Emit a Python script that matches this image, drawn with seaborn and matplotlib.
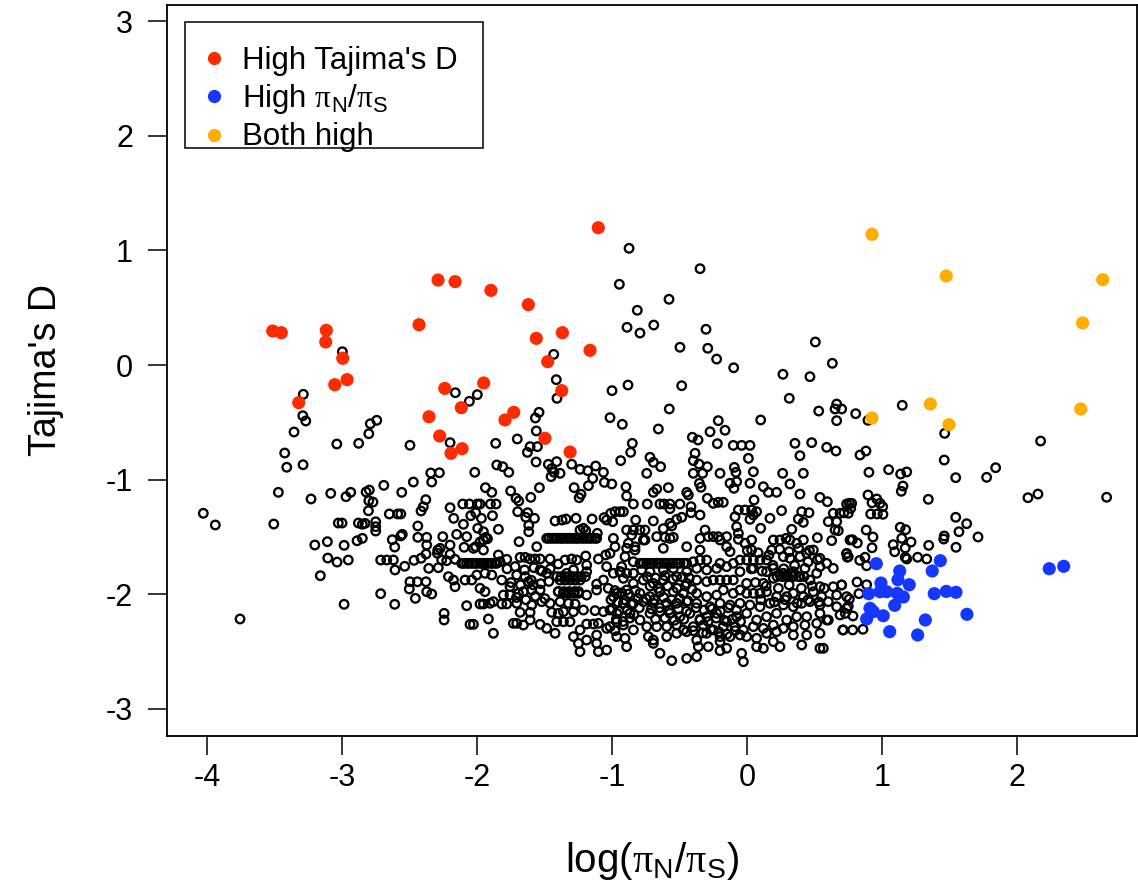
import matplotlib
matplotlib.use("Agg")
import matplotlib.pyplot as plt
from matplotlib.lines import Line2D
from matplotlib.patches import Rectangle
import seaborn as sns
import pandas as pd

sns.set_theme(style="white")
plt.rcParams['font.family'] = ['Liberation Sans', 'DejaVu Sans']
plt.rcParams['mathtext.fontset'] = 'custom'
plt.rcParams['mathtext.rm'] = 'Liberation Sans'
plt.rcParams['mathtext.it'] = 'Liberation Sans:italic'
plt.rcParams['mathtext.sf'] = 'Liberation Serif'
plt.rcParams['mathtext.default'] = 'regular'
for k in ['text.color', 'axes.labelcolor', 'xtick.color', 'ytick.color']:
    plt.rcParams[k] = 'black'

# ---------------- data (log(piN/piS), Tajima's D) ----------------
red_x = [-3.516, -3.452, -3.119, -3.123, -2.997, -3.056, -2.965, -3.323, -2.432, -1.104,
         -2.291, -2.165, -1.899, -1.622, -1.370, -1.563, -1.165, -1.479, -1.953, -2.241,
         -1.375, -2.119, -2.358, -1.730, -1.795, -2.279, -2.113, -2.195, -1.499, -1.313]
red_y = [0.297, 0.282, 0.303, 0.201, 0.059, -0.172, -0.128, -0.329, 0.352, 1.199,
         0.742, 0.728, 0.652, 0.527, 0.282, 0.233, 0.128, 0.029, -0.157, -0.204,
         -0.224, -0.373, -0.452, -0.413, -0.480, -0.620, -0.731, -0.771, -0.640, -0.760]

blue_x = [0.956, 1.129, 1.116, 1.370, 1.430, 0.990, 1.200, 0.899, 0.983, 1.032, 1.111,
          1.156, 1.385, 1.474, 1.546, 1.092, 0.909, 0.933, 1.007, 0.884, 1.319, 1.627,
          1.055, 1.262, 2.237, 2.344]
blue_y = [-1.735, -1.799, -1.875, -1.799, -1.709, -1.904, -1.919, -1.997, -1.980, -1.980,
          -1.994, -2.026, -1.997, -1.977, -1.985, -2.099, -2.125, -2.154, -2.190, -2.218,
          -2.227, -2.177, -2.329, -2.358, -1.779, -1.758]

orange_x = [0.924, 1.474, 2.633, 2.484, 1.356, 0.924, 1.494, 2.470]
orange_y = [1.141, 0.777, 0.745, 0.367, -0.341, -0.463, -0.521, -0.384]

black_upper = [
    (-3.00, 0.116), (-3.289, -0.256),
    (-0.876, 1.019), (-0.948, 0.705), (-0.891, 0.329), (-1.434, 0.093), (-1.415, -0.128),
    (-1.410, -0.291), (-2.163, -0.242), (-2.059, -0.317), (-2.000, -0.259), (-1.002, -0.224),
    (-0.884, -0.175), (-1.543, -0.413), (-1.570, -0.463), (-1.563, -0.576), (-1.017, -0.460),
    (-0.926, -0.518), (-1.704, -0.646),
    (-0.350, 0.841), (-0.580, 0.574), (-0.815, 0.478), (-0.795, 0.279), (-0.693, 0.349),
    (-0.306, 0.312), (-0.499, 0.155), (-0.293, 0.146), (-0.227, 0.052), (-0.101, -0.024),
    (0.504, 0.201), (0.630, 0.015), (0.264, -0.081), (0.464, -0.102), (-0.486, -0.181),
    (0.311, -0.291), (-0.578, -0.384), (-0.659, -0.559), (-0.215, -0.486), (0.099, -0.480),
    (0.529, -0.402), (0.662, -0.341), (0.650, -0.384), (0.699, -0.384), (0.662, -0.486),
    (-0.276, -0.583), (-0.165, -0.570), (-0.407, -0.631), (-0.365, -0.655),
    (0.803, -0.425), (0.894, -0.483), (1.148, -0.352), (1.462, -0.597), (2.173, -0.664),
    (0.879, -0.751), (0.835, -0.786), (1.459, -0.830),
]

black_left = [
    (-3.293, -0.443), (-3.271, -0.489), (-3.358, -0.585), (-3.427, -0.769), (-3.412, -0.893),
    (-3.291, -0.871), (-3.041, -0.690), (-2.879, -0.684), (-2.793, -0.513), (-2.745, -0.483),
    (-2.804, -0.600), (-2.499, -0.701), (-3.474, -1.112), (-3.232, -1.170), (-3.086, -1.121),
    (-2.973, -1.150), (-2.938, -1.112), (-2.824, -1.109), (-2.800, -1.092), (-2.804, -1.185),
    (-2.773, -1.197), (-2.807, -1.273), (-2.693, -1.051), (-2.560, -1.112), (-2.474, -1.022),
    (-2.345, -0.943), (-2.281, -0.941), (-2.338, -1.022), (-2.382, -1.176), (-2.400, -1.238),
    (-2.417, -1.275), (-4.030, -1.295), (-3.941, -1.397), (-3.508, -1.389), (-3.030, -1.380),
    (-3.002, -1.380), (-2.881, -1.380), (-2.852, -1.391), (-2.832, -1.383), (-2.753, -1.369),
    (-2.753, -1.412), (-2.753, -1.450), (-2.652, -1.301), (-2.590, -1.301), (-2.567, -1.301),
    (-2.441, -1.406), (-3.204, -1.572), (-3.111, -1.543), (-2.987, -1.575), (-2.891, -1.535),
    (-2.852, -1.514), (-2.630, -1.526), (-2.612, -1.590), (-2.567, -1.493), (-2.556, -1.479),
    (-2.441, -1.505), (-2.375, -1.505), (-2.375, -1.572), (-2.293, -1.616), (-3.108, -1.686),
    (-3.039, -1.721), (-2.956, -1.703), (-2.716, -1.703), (-2.671, -1.703), (-2.622, -1.703),
    (-2.610, -1.790), (-2.538, -1.758), (-2.469, -1.706), (-2.417, -1.688), (-2.380, -1.651),
    (-2.296, -1.644), (-2.360, -1.776), (-2.289, -1.770), (-3.163, -1.840), (-2.499, -1.893),
    (-2.444, -1.893), (-2.380, -1.893), (-2.504, -1.956), (-2.375, -1.980), (-2.338, -2.000),
    (-2.459, -2.038), (-2.716, -1.997), (-2.987, -2.090), (-2.612, -2.090), (-3.758, -2.218),
]

black_core_a = [
    (-2.202, -0.678), (-1.864, -0.684), (-1.609, -0.713), (-1.555, -0.713), (-1.629, -0.763),
    (-1.565, -0.847), (-1.856, -0.873), (-1.812, -0.888), (-1.767, -0.937), (-2.019, -0.937),
    (-1.474, -0.867), (-1.449, -0.905), (-1.412, -0.844), (-1.432, -0.937), (-1.454, -0.975),
    (-1.387, -0.946), (-1.301, -0.867), (-1.239, -0.911), (-1.182, -0.923), (-1.123, -0.882),
    (-1.066, -0.937), (-1.145, -0.990), (-1.177, -1.054), (-1.059, -1.025), (-1.004, -1.039),
    (-0.938, -0.835), (-1.940, -1.071), (-1.893, -1.112), (-1.753, -1.100), (-1.713, -1.164),
    (-1.693, -1.188), (-1.604, -1.156), (-1.540, -1.071), (-1.283, -1.071), (-1.232, -1.129),
    (-1.246, -1.159), (-2.108, -1.214), (-2.059, -1.214), (-2.000, -1.214), (-1.980, -1.214),
    (-1.903, -1.214), (-1.861, -1.214), (-2.202, -1.246),
    (-2.012, -1.290), (-2.049, -1.316), (-1.970, -1.339), (-1.888, -1.316), (-2.175, -1.339),
    (-2.103, -1.391), (-1.701, -1.281), (-1.627, -1.290), (-1.641, -1.330), (-1.577, -1.339),
    (-1.619, -1.400), (-1.619, -1.456), (-1.844, -1.435), (-1.997, -1.426), (-1.955, -1.456),
    (-1.938, -1.505), (-1.424, -1.362), (-1.372, -1.354), (-1.343, -1.345), (-1.269, -1.339),
    (-1.150, -1.345), (-1.061, -1.333), (-1.012, -1.295), (-0.980, -1.281), (-1.042, -1.354),
    (-0.997, -1.368), (-1.239, -1.441), (-1.214, -1.426), (-1.197, -1.447), (-2.256, -1.499),
    (-2.153, -1.479), (-2.079, -1.499),
    (-1.955, -1.528), (-1.980, -1.546), (-1.925, -1.517), (-1.691, -1.543), (-1.560, -1.587),
    (-1.111, -1.470), (-1.116, -1.514), (-1.486, -1.514), (-1.449, -1.514), (-1.412, -1.514),
    (-1.375, -1.514), (-1.338, -1.514), (-1.301, -1.514), (-1.264, -1.514), (-1.227, -1.514),
    (-1.190, -1.514), (-1.153, -1.514), (-0.992, -1.514), (-2.098, -1.592), (-2.029, -1.601),
    (-2.012, -1.587), (-1.955, -1.616), (-0.980, -1.587), (-2.276, -1.601), (-2.202, -1.572),
    (-1.844, -1.659), (-1.782, -1.697), (-2.202, -1.653), (-2.264, -1.703), (-2.227, -1.709),
    (-2.165, -1.697), (-2.116, -1.732), (-2.079, -1.732), (-2.041, -1.732), (-2.004, -1.732),
    (-1.967, -1.732), (-1.930, -1.732), (-1.893, -1.732), (-1.856, -1.732), (-1.832, -1.718),
    (-1.683, -1.680), (-1.646, -1.680), (-1.609, -1.694), (-1.572, -1.694), (-1.535, -1.694),
    (-1.461, -1.694), (-1.400, -1.738), (-1.350, -1.703), (-1.301, -1.694), (-1.264, -1.703),
    (-1.197, -1.668), (-1.103, -1.694), (-1.049, -1.659), (-1.017, -1.645),
    (-2.214, -1.848), (-2.177, -1.878), (-2.165, -1.936), (-2.091, -1.878), (-2.041, -1.878),
    (-2.004, -1.834), (-1.943, -1.819), (-1.893, -1.834), (-1.819, -1.878), (-1.758, -1.936),
    (-1.708, -1.834), (-1.646, -1.848), (-1.622, -1.892), (-1.585, -1.921), (-1.535, -1.790),
    (-1.486, -1.819), (-1.387, -1.878), (-1.350, -1.878), (-1.313, -1.878), (-1.276, -1.878),
    (-1.239, -1.878), (-1.338, -1.819), (-1.288, -1.790), (-1.190, -1.805), (-1.116, -1.913),
    (-1.066, -1.878), (-0.992, -1.819), (-0.943, -1.805), (-1.042, -1.761), (-1.190, -1.747),
    (-1.980, -1.950), (-1.943, -1.979), (-1.807, -2.009), (-1.758, -2.009), (-1.696, -1.994),
    (-1.659, -1.979), (-1.597, -1.965), (-1.535, -1.965), (-1.461, -2.081), (-1.400, -1.979),
    (-1.362, -1.994), (-1.325, -1.994), (-1.288, -1.994), (-1.251, -1.994), (-1.190, -2.009),
    (-1.116, -1.965), (-0.992, -2.023), (-0.967, -1.994), (-1.387, -2.067), (-1.325, -2.081),
    (-1.276, -2.087),
    (-2.079, -2.102), (-1.980, -2.087), (-1.955, -2.087), (-1.906, -2.081), (-1.881, -2.067),
    (-1.819, -2.087), (-1.782, -2.087), (-1.708, -2.081), (-1.597, -2.096), (-1.523, -2.067),
    (-1.683, -2.160), (-1.609, -2.160), (-1.449, -2.160), (-1.400, -2.169), (-1.362, -2.154),
    (-1.288, -2.154), (-1.214, -2.140), (-1.128, -2.145), (-1.066, -2.154), (-1.017, -2.140),
    (-0.967, -2.169), (-1.918, -2.218), (-2.054, -2.265), (-2.029, -2.265), (-1.733, -2.256),
    (-1.708, -2.256), (-1.659, -2.271), (-1.609, -2.227), (-1.535, -2.265), (-1.486, -2.300),
    (-1.412, -2.242), (-1.362, -2.242), (-1.313, -2.242), (-1.190, -2.262), (-1.140, -2.262),
    (-1.103, -2.256), (-0.967, -2.242), (-1.017, -2.285), (-2.246, -2.169), (-2.246, -2.227),
    (-1.881, -2.343), (-1.424, -2.343), (-1.288, -2.372), (-1.239, -2.314), (-1.190, -2.402),
    (-1.116, -2.358), (-1.042, -2.300), (-0.980, -2.320), (-1.251, -2.431), (-1.239, -2.503),
    (-1.116, -2.431), (-1.103, -2.503), (-1.042, -2.489), (-0.967, -2.372),
]

black_core_b = [
    (-0.852, -0.684), (-0.864, -0.763), (-0.721, -0.806), (-0.696, -0.850), (-0.642, -0.888),
    (-0.745, -0.946), (-0.387, -0.771), (-0.400, -0.835), (-0.358, -0.865), (-0.296, -0.888),
    (-0.400, -0.946), (-0.331, -0.946), (-0.355, -1.033), (-0.343, -1.068), (-0.585, -1.071),
    (-0.696, -1.112), (-0.671, -1.083), (-0.449, -1.112), (-0.437, -1.135), (-0.899, -1.063),
    (-0.894, -1.144), (-0.844, -1.214), (-0.741, -1.214), (-0.647, -1.214), (-0.617, -1.214),
    (-0.573, -1.214), (-0.499, -1.214), (-0.573, -1.255), (-0.417, -1.237), (-0.417, -1.290),
    (-0.350, -1.310), (-0.296, -1.164), (-0.252, -1.208), (-0.215, -1.199), (-0.178, -1.199),
    (-0.202, -0.946), (-0.128, -1.033), (-0.096, -0.894), (-0.084, -0.937), (-0.079, -1.019),
    (-0.099, -1.077), (0.008, -0.815), (0.045, -0.932), (0.020, -1.033), (0.119, -1.063),
    (0.156, -1.112), (0.217, -1.112), (0.050, -1.179), (0.262, -0.946), (0.316, -1.039),
    (0.390, -1.127), (0.415, -0.946), (0.390, -0.792), (0.353, -0.684), (0.477, -0.678),
    (0.588, -0.719), (0.657, -0.751), (-0.222, -0.687), (-0.104, -0.702), (-0.042, -0.702),
    (0.020, -0.702), (0.538, -1.156), (0.593, -1.194), (0.736, -1.214),
    (-0.943, -1.281), (-0.918, -1.281), (-0.827, -1.354), (-0.696, -1.362), (-0.523, -1.348),
    (-0.486, -1.330), (-0.573, -1.383), (-0.560, -1.406), (-0.622, -1.429), (-0.894, -1.441),
    (-0.844, -1.441), (-0.795, -1.441), (-0.758, -1.441), (-0.857, -1.485), (-0.770, -1.528),
    (-0.671, -1.499), (-0.610, -1.505), (-0.573, -1.514), (-0.548, -1.505), (-0.313, -1.441),
    (-0.289, -1.499), (-0.252, -1.499), (-0.215, -1.499), (-0.202, -1.528), (-0.350, -1.514),
    (-0.153, -1.499), (-0.066, -1.266), (-0.017, -1.266), (0.032, -1.266), (0.045, -1.310),
    (0.069, -1.281), (-0.091, -1.325), (0.020, -1.348), (0.168, -1.339), (0.254, -1.272),
    (0.329, -1.435), (0.403, -1.281), (0.457, -1.290), (0.378, -1.345), (0.415, -1.374),
    (0.099, -1.426), (-0.079, -1.412), (-0.066, -1.470), (-0.066, -1.522), (0.032, -1.528),
    (0.193, -1.528), (0.242, -1.528), (0.287, -1.514), (0.316, -1.528), (0.366, -1.557),
    (0.415, -1.528), (0.519, -1.508), (0.600, -1.368), (0.662, -1.368), (0.674, -1.447),
    (0.650, -1.441), (0.637, -1.295), (0.687, -1.295), (0.748, -1.295), (0.756, -1.208),
    (0.625, -1.534), (0.761, -1.528),
    (-0.881, -1.557), (-0.832, -1.587), (-0.758, -1.528), (-0.894, -1.601), (-0.832, -1.616),
    (-0.622, -1.601), (-0.449, -1.587), (-0.350, -1.616), (-0.153, -1.587), (-0.128, -1.630),
    (-0.017, -1.557), (0.032, -1.616), (0.180, -1.616), (-0.906, -1.674), (-0.931, -1.761),
    (-0.844, -1.718), (-0.795, -1.732), (-0.745, -1.732), (-0.696, -1.732), (-0.647, -1.732),
    (-0.597, -1.732), (-0.548, -1.732), (-0.499, -1.732), (-0.449, -1.732), (-0.400, -1.718),
    (-0.350, -1.703), (-0.301, -1.703), (-0.202, -1.732), (-0.104, -1.732), (-0.054, -1.703),
    (-0.005, -1.703), (0.045, -1.703), (0.094, -1.703), (0.143, -1.703), (0.267, -1.674),
    (0.316, -1.688), (0.390, -1.674), (0.440, -1.645), (0.489, -1.616), (0.538, -1.688),
    (0.588, -1.732), (0.637, -1.776), (0.736, -1.645), (0.748, -1.674),
    (-0.943, -1.805), (-0.894, -1.819), (-0.844, -1.819), (-0.783, -1.790), (-0.721, -1.805),
    (-0.622, -1.790), (-0.548, -1.776), (-0.449, -1.805), (-0.375, -1.776), (-0.301, -1.790),
    (-0.227, -1.776), (-0.153, -1.761), (-0.054, -1.805), (0.045, -1.776), (0.143, -1.805),
    (0.193, -1.776), (0.267, -1.819), (0.341, -1.805), (0.427, -1.776), (0.514, -1.819),
    (0.538, -1.761),
    (-0.918, -1.863), (-0.844, -1.907), (-0.770, -1.878), (-0.696, -1.907), (-0.622, -1.878),
    (-0.523, -1.849), (-0.449, -1.907), (-0.375, -1.878), (-0.301, -1.892), (-0.252, -1.878),
    (-0.202, -1.878), (-0.153, -1.878), (-0.104, -1.878), (-0.005, -1.907), (0.119, -1.907),
    (0.193, -1.863), (0.242, -1.834), (0.292, -1.834), (0.341, -1.834), (0.390, -1.849),
    (0.464, -1.878), (0.538, -1.936), (0.637, -1.936), (0.699, -1.921), (-0.894, -1.965),
    (-0.795, -1.994), (-0.721, -2.023), (-0.647, -1.980), (-0.548, -1.980), (-0.474, -1.994),
    (-0.375, -1.994), (-0.301, -2.023), (-0.227, -2.009), (-0.178, -1.965), (-0.104, -1.994),
    (-0.054, -1.965), (-0.005, -1.994), (0.045, -1.994), (0.094, -1.994), (0.143, -1.980),
    (0.217, -2.023), (0.292, -2.023), (0.341, -1.994), (0.415, -2.023), (0.489, -1.980),
    (0.551, -2.023), (0.662, -2.009), (0.736, -2.023),
    (-0.918, -2.081), (-0.844, -2.081), (-0.770, -2.067), (-0.696, -2.081), (-0.597, -2.081),
    (-0.523, -2.081), (-0.449, -2.067), (-0.375, -2.081), (-0.276, -2.111), (-0.202, -2.081),
    (-0.128, -2.096), (-0.054, -2.081), (0.020, -2.096), (0.094, -2.111), (0.168, -2.081),
    (0.267, -2.096), (0.341, -2.111), (0.403, -2.081), (0.464, -2.067), (0.538, -2.096),
    (0.600, -2.067), (0.662, -2.111), (0.736, -2.125),
    (-0.869, -2.169), (-0.795, -2.227), (-0.721, -2.169), (-0.647, -2.154), (-0.573, -2.169),
    (-0.499, -2.198), (-0.425, -2.169), (-0.350, -2.227), (-0.301, -2.198), (-0.227, -2.169),
    (-0.153, -2.241), (-0.079, -2.198), (-0.005, -2.169), (0.069, -2.227), (0.143, -2.198),
    (0.217, -2.169), (0.292, -2.227), (0.366, -2.198), (0.440, -2.198), (0.538, -2.169),
    (0.600, -2.227), (0.687, -2.183), (-0.918, -2.271), (-0.844, -2.314), (-0.745, -2.285),
    (-0.671, -2.285), (-0.597, -2.285), (-0.523, -2.271), (-0.474, -2.314), (-0.400, -2.285),
    (-0.326, -2.271), (-0.252, -2.314), (-0.178, -2.285), (-0.091, -2.285), (-0.029, -2.314),
    (0.045, -2.285), (0.119, -2.300), (0.193, -2.271), (0.267, -2.300), (0.341, -2.285),
    (0.427, -2.271), (0.514, -2.256), (0.588, -2.227), (0.711, -2.314),
    (-0.906, -2.387), (-0.733, -2.372), (-0.696, -2.402), (-0.597, -2.372), (-0.523, -2.343),
    (-0.449, -2.329), (-0.375, -2.402), (-0.301, -2.343), (-0.202, -2.372), (-0.128, -2.372),
    (-0.054, -2.358), (-0.005, -2.372), (0.069, -2.387), (0.143, -2.343), (0.217, -2.329),
    (0.341, -2.358), (0.440, -2.358), (0.538, -2.343), (-0.894, -2.460), (-0.696, -2.431),
    (-0.363, -2.460), (-0.289, -2.460), (-0.202, -2.416), (-0.153, -2.474), (0.069, -2.460),
    (0.119, -2.474), (0.193, -2.416), (0.242, -2.460), (0.403, -2.445), (0.538, -2.474),
    (0.563, -2.474), (-0.647, -2.518), (-0.560, -2.582), (-0.449, -2.562), (-0.375, -2.547),
    (-0.202, -2.495), (-0.042, -2.518), (-0.029, -2.591),
]

black_core_dense = [
    (-1.41, -1.848), (-1.38, -1.848), (-1.35, -1.848), (-1.32, -1.848), (-1.29, -1.848),
    (-1.26, -1.848), (-1.23, -1.848), (-1.20, -1.848),
    (-1.47, -1.513), (-1.43, -1.513), (-1.39, -1.513), (-1.36, -1.513), (-1.32, -1.513),
    (-1.28, -1.513), (-1.25, -1.513), (-1.21, -1.513), (-1.17, -1.513), (-1.13, -1.513),
    (-2.10, -1.732), (-2.06, -1.732), (-2.02, -1.732), (-1.98, -1.732), (-1.95, -1.732),
    (-1.91, -1.732), (-1.87, -1.732),
    (-0.77, -1.732), (-0.72, -1.732), (-0.67, -1.732), (-0.62, -1.732), (-0.57, -1.732),
    (-0.52, -1.732), (-0.47, -1.732),
    (0.22, -1.848), (0.26, -1.848), (0.30, -1.848), (0.34, -1.848), (0.38, -1.848), (0.42, -1.848),
    (-1.40, -1.979), (-1.36, -1.979), (-1.32, -1.979), (-1.28, -1.979), (-1.25, -1.979),
    (-1.03, -1.95), (-0.98, -1.97), (-0.93, -1.99), (-0.88, -2.00), (-0.83, -1.97),
    (-1.01, -2.05), (-0.96, -2.07), (-0.91, -2.05), (-0.86, -2.09), (-0.81, -2.04),
    (-1.00, -2.13), (-0.95, -2.15), (-0.89, -2.14), (-0.84, -2.18), (-0.80, -2.12),
    (-0.97, -2.22), (-0.92, -2.24), (-0.87, -2.21),
    (-0.74, -1.85), (-0.68, -1.86), (-0.61, -1.84), (-0.55, -1.87), (-0.48, -1.85),
    (-0.43, -1.86), (-0.72, -1.93), (-0.66, -1.95), (-0.59, -1.93), (-0.52, -1.95),
    (-0.46, -1.93), (-0.41, -1.96), (-0.75, -2.04), (-0.69, -2.05), (-0.62, -2.03),
    (-0.56, -2.05), (-0.50, -2.04), (-0.44, -2.06), (-0.71, -2.13), (-0.65, -2.12),
    (-0.58, -2.14), (-0.51, -2.13), (-0.45, -2.15), (-0.68, -2.22), (-0.61, -2.21),
    (-0.54, -2.23), (-0.47, -2.22),
    (-0.38, -2.12), (-0.32, -2.14), (-0.26, -2.13), (-0.20, -2.15), (-0.14, -2.12),
    (-0.08, -2.14), (-0.35, -2.22), (-0.29, -2.24), (-0.23, -2.21), (-0.17, -2.23),
    (-0.11, -2.22), (-0.05, -2.24), (-0.40, -2.32), (-0.33, -2.34), (-0.27, -2.31),
    (-0.21, -2.33), (-0.15, -2.35), (-0.09, -2.32),
    (0.00, -1.62), (0.08, -1.64), (0.16, -1.66), (0.24, -1.61), (0.31, -1.63), (0.38, -1.60),
    (0.46, -1.62), (0.03, -1.78), (0.11, -1.80), (0.19, -1.75), (0.27, -1.78), (0.35, -1.75),
    (0.45, -1.72), (0.52, -1.70), (0.06, -1.90), (0.14, -1.93), (0.23, -1.95), (0.31, -1.92),
    (0.40, -1.95), (0.48, -1.93), (0.57, -1.95), (0.10, -2.05), (0.20, -2.07), (0.28, -2.05),
    (0.37, -2.08), (0.45, -2.05), (0.53, -2.07),
    (-1.78, -1.78), (-1.72, -1.76), (-1.65, -1.79), (-1.58, -1.77), (-1.52, -1.80),
    (-1.46, -1.78), (-1.75, -1.90), (-1.68, -1.92), (-1.60, -1.88), (-1.53, -1.91),
    (-1.47, -1.89), (-1.71, -2.03), (-1.64, -2.05), (-1.57, -2.02), (-1.50, -2.04),
]

black_right = [
    (1.840, -0.897), (1.773, -0.981), (1.544, -0.984), (0.901, -0.937), (1.047, -0.914),
    (1.136, -0.952), (1.181, -0.934), (1.153, -1.057), (1.141, -1.103), (1.341, -1.173),
    (2.079, -1.159), (2.153, -1.127), (2.662, -1.155), (0.894, -1.135), (0.959, -1.170),
    (0.924, -1.203), (0.983, -1.208), (0.773, -1.208), (0.766, -1.252), (0.716, -1.290),
    (0.914, -1.301), (0.963, -1.301), (1.005, -1.304), (1.003, -1.238), (1.544, -1.330),
    (1.625, -1.386), (1.568, -1.456), (1.709, -1.502), (1.455, -1.520), (1.459, -1.493),
    (1.546, -1.592), (1.344, -1.575), (1.133, -1.417), (1.173, -1.438), (0.881, -1.441),
    (0.931, -1.502), (1.144, -1.514), (1.213, -1.546), (0.778, -1.526), (0.815, -1.555),
    (0.924, -1.596), (1.081, -1.569), (1.092, -1.631), (1.170, -1.598), (1.170, -1.679),
    (1.181, -1.694), (1.262, -1.679), (1.329, -1.694), (0.736, -1.648), (0.741, -1.679),
    (0.833, -1.706), (0.872, -1.679), (0.884, -1.753), (0.699, -1.921), (0.813, -1.895),
    (0.884, -1.919), (0.827, -1.997), (0.756, -2.044), (0.748, -2.107), (0.726, -2.169),
    (0.783, -2.192), (0.707, -2.314), (0.781, -2.314), (0.857, -2.308),
]

legend_labels = ["High Tajima's D",
                 r"High $\mathsf{\pi}_\mathrm{N}/\mathsf{\pi}_\mathrm{S}$",
                 "Both high"]

black_pts = black_upper + black_left + black_core_a + black_core_b + black_core_dense + black_right
df_black = pd.DataFrame(black_pts, columns=["x", "y"])
df_red = pd.DataFrame({"x": red_x, "y": red_y})
df_blue = pd.DataFrame({"x": blue_x, "y": blue_y})
df_orange = pd.DataFrame({"x": orange_x, "y": orange_y})

RED = "#FF2B00"
BLUE = "#1438FF"
ORANGE = "#FFAE00"

fig = plt.figure(figsize=(11.38, 8.92), dpi=100)
ax = fig.add_axes([167 / 1138, 1 - 736 / 892, 970 / 1138, 731 / 892])

sns.scatterplot(data=df_black, x="x", y="y", ax=ax, marker="o", s=38,
                facecolors="none", edgecolor="black", linewidth=1.65, legend=False)
for d, c in [(df_red, RED), (df_blue, BLUE), (df_orange, ORANGE)]:
    sns.scatterplot(data=d, x="x", y="y", ax=ax, marker="o", s=90,
                    color=c, edgecolor="none", linewidth=0, legend=False)

ax.set_xlim(-4.299, 2.887)
ax.set_ylim(-3.240, 3.144)
ax.set_xticks([-4, -3, -2, -1, 0, 1, 2])
ax.set_xticklabels(["-4", "-3", "-2", "-1", "0", "1", "2"])
ax.set_yticks([-3, -2, -1, 0, 1, 2, 3])
ax.set_yticklabels(["-3", "-2", "-1", "0", "1", "2", "3"])
ax.tick_params(axis="both", direction="out", length=13.5, width=1.1, color="black",
               labelsize=22, labelcolor="black", bottom=True, left=True)
ax.tick_params(axis="x", pad=6)
ax.tick_params(axis="y", pad=11)
for sp in ax.spines.values():
    sp.set_visible(True)
    sp.set_color("black")
    sp.set_linewidth(1.3)

ax.set_xlabel(r"log($\mathsf{\pi}_\mathrm{N}/\mathsf{\pi}_\mathrm{S}$)", fontsize=29, labelpad=34)
ax.set_ylabel("Tajima's D", fontsize=27, labelpad=30)

# legend frame (drawn separately, R style) and entries
ax.add_patch(Rectangle((18 / 970, (736 - 148) / 731), 298 / 970, 126 / 731,
                       transform=ax.transAxes, fill=False, edgecolor="black",
                       linewidth=1.1, zorder=5))
handles = [Line2D([], [], marker="o", linestyle="none", markersize=9.5, color=c,
                  markeredgewidth=0) for c in (RED, BLUE, ORANGE)]
leg = ax.legend(handles, legend_labels, loc="upper left",
                bbox_to_anchor=((198 - 167) / 970, (736 - 46) / 731),
                borderaxespad=0, borderpad=0, frameon=False, fontsize=22.5,
                handletextpad=0.42, labelspacing=0.2, handlelength=1.0)

fig.savefig("out.png", dpi=100, facecolor="white")
